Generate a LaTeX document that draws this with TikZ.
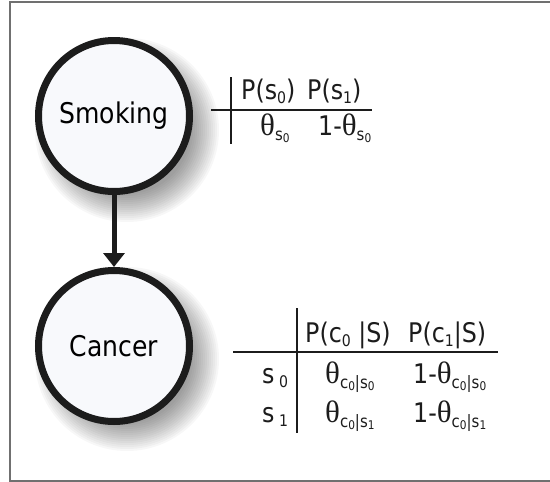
\documentclass[tikz,border=0pt]{standalone}
\usepackage{fontspec}
\setmainfont{DejaVu Sans}[FakeStretch=0.88]
\newfontfamily\thetafont{Liberation Serif}
\usetikzlibrary{arrows.meta}

\definecolor{nodefill}{HTML}{F8F9FC}
\definecolor{ink}{HTML}{1C1C1C}
\definecolor{framegray}{HTML}{707070}

% theta glyph and the small lowered indices used in the tables
\newcommand\thv{{\thetafont\fontsize{31}{31}\selectfont θ}}
\newcommand\subd[1]{\raisebox{-2pt}{\fontsize{12}{12}\selectfont #1}}
\newcommand\thsub[1]{\thv\raisebox{-5pt}{\fontsize{17}{17}\selectfont #1}}
\newcommand\hsub[1]{\raisebox{-4pt}{\fontsize{16}{16}\selectfont #1}}

\tikzset{
  varnode/.style={circle, draw=ink, line width=7pt, fill=nodefill,
    minimum size=151pt, inner sep=0pt, font=\fontsize{28.5}{28.5}\selectfont},
  edgearrow/.style={draw=ink, line width=5pt,
    -{Triangle[length=14pt,width=21pt]}},
  cell/.style={anchor=base west, inner sep=0pt, text=ink,
    font=\fontsize{27}{27}\selectfont},
  rule/.style={draw=ink, line width=1.3pt},
  frame/.style={draw=framegray, line width=1.5pt},
}

\begin{document}
\begin{tikzpicture}[x=1pt,y=-1pt]
\useasboundingbox (0,0) rectangle (550,482);

% outer frame (open on the right)
\draw[frame] (552,2) -- (10,2) -- (10,481) -- (552,481);

% soft shadows under the two variables
\foreach \cy in {130,359}{
  \foreach \r in {64,66,...,92}
    \fill[black,opacity=0.03] (127,\cy) circle (\r pt);
}

% the two variables
\node[varnode] (smoking) at (114,116) {Smoking};
\node[varnode] (cancer) at (114,346) {Cancer};
\draw[edgearrow] (smoking.south) -- (cancer.north);

% table for Smoking
\node[cell] (t1h1) at (241,99) {P(s\hsub{0})};
\node[cell] (t1h2) at (307,99) {P(s\hsub{1})};
\node[cell] (t1v1) at (260,135) {\thsub{s\subd{0}}};
\node[cell] (t1v2) at (318,135) {1-\thsub{s\subd{0}}};
\draw[rule] (231,77) -- (231,144);
\draw[rule] (211,110) -- (372,110);

% table for Cancer given Smoking
\node[cell] (t2h1) at (305,342) {P(c\hsub{0} |S)};
\node[cell] (t2h2) at (408,342) {P(c\hsub{1}|S)};
\node[cell] (t2r1) at (262,383) {s\,\hsub{0}};
\node[cell] (t2r2) at (262,422) {s\,\hsub{1}};
\node[cell] (t2a) at (325,383) {\thsub{c\subd{0}|s\subd{0}}};
\node[cell] (t2b) at (413,383) {1-\thsub{c\subd{0}|s\subd{0}}};
\node[cell] (t2c) at (325,422) {\thsub{c\subd{0}|s\subd{1}}};
\node[cell] (t2d) at (413,422) {1-\thsub{c\subd{0}|s\subd{1}}};
\draw[rule] (297,308) -- (297,433);
\draw[rule] (233,352) -- (498,352);
\end{tikzpicture}
\end{document}
